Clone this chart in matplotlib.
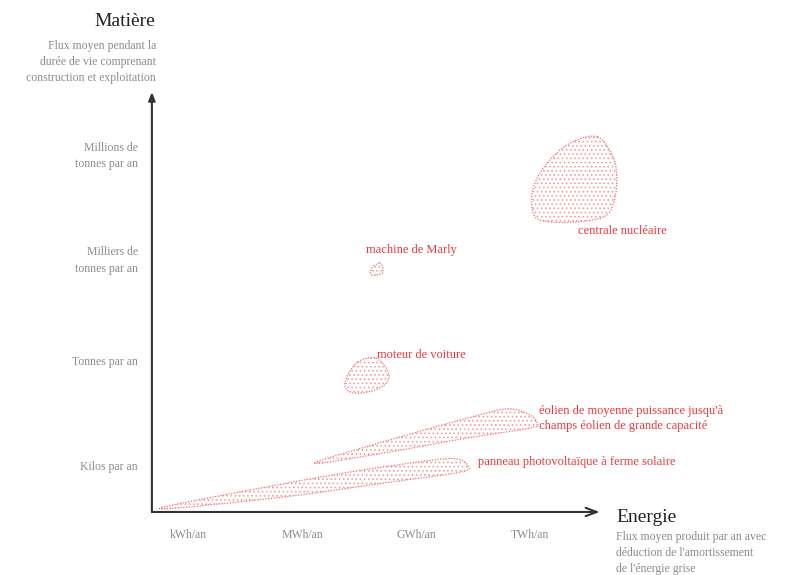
import numpy as np
import matplotlib
matplotlib.use('Agg')
import matplotlib.pyplot as plt
from matplotlib.path import Path
from matplotlib.patches import PathPatch

# axes: energy in decades from kWh/an, matter in decades from kilos/an
x_ticks = [0, 1, 2, 3]
x_labels = ['kWh/an', 'MWh/an', 'GWh/an', 'TWh/an']
y_ticks = [0, 1, 2, 3]
y_labels = ['Kilos par an', 'Tonnes par an', 'Milliers de\ntonnes par an', 'Millions de\ntonnes par an']

# outline control points of each domain (energy, matter)
nucleaire = [(3.59, 3.15), (3.73, 2.95), (3.76, 2.73), (3.73, 2.51), (3.64, 2.38),
             (3.35, 2.33), (3.09, 2.35), (3.02, 2.45), (3.03, 2.67), (3.15, 2.90), (3.35, 3.09)]
marly = [(1.68, 1.94), (1.71, 1.89), (1.70, 1.84), (1.62, 1.82), (1.60, 1.85), (1.62, 1.90)]
moteur = [(1.49, 0.99), (1.64, 1.03), (1.75, 0.91), (1.75, 0.80), (1.64, 0.72),
          (1.47, 0.69), (1.38, 0.74), (1.40, 0.86)]
eolien = [(1.11, 0.02), (1.86, 0.27), (2.45, 0.45), (2.80, 0.54), (3.00, 0.48),
          (3.06, 0.40), (3.00, 0.355), (2.45, 0.26), (1.71, 0.115)]
solaire = [(-0.25, -0.42), (0.54, -0.24), (1.42, -0.067), (2.15, 0.048), (2.36, 0.058),
           (2.45, 0.0), (2.39, -0.067), (1.71, -0.173), (0.83, -0.307)]

shapes = [nucleaire, marly, moteur, eolien, solaire]

labels = ['centrale nucléaire', 'machine de Marly', 'moteur de voiture',
          "éolien de moyenne puissance jusqu'à\nchamps éolien de grande capacité",
          'panneau photovoltaïque à ferme solaire']
label_pos = [(3.42, 2.25), (1.56, 2.06), (1.66, 1.06), (3.08, 0.45), (2.54, 0.03)]

RED = '#e8383d'
EDGE = '#ef6f72'
GRAY = '#8c8c8c'

plt.rcParams['font.family'] = ['Liberation Serif', 'DejaVu Serif']
plt.rcParams['hatch.linewidth'] = 0.7


def smooth_closed(pts):
    # closed Catmull-Rom outline expressed as cubic Bezier segments
    p = np.array(pts, dtype=float)
    n = len(p)
    verts = [p[0]]
    codes = [Path.MOVETO]
    for i in range(n):
        p0, p1, p2, p3 = p[i - 1], p[i], p[(i + 1) % n], p[(i + 2) % n]
        verts += [p1 + (p2 - p0) / 6, p2 - (p3 - p1) / 6, p2]
        codes += [Path.CURVE4] * 3
    return Path(verts, codes)


fig = plt.figure(figsize=(7.87, 5.75), dpi=100)
ax = fig.add_axes([0.193, 0.1096, 0.569, 0.7304])
ax.set_xlim(-0.316, 3.61)
ax.set_ylim(-0.45, 3.58)
for s in ax.spines.values():
    s.set_visible(False)

for pts in shapes:
    path = smooth_closed(pts)
    ax.add_patch(PathPatch(path, facecolor='none', edgecolor='#f2a0a2', hatch='....',
                           linewidth=0, clip_on=False))
    ax.add_patch(PathPatch(path, fill=False, edgecolor=EDGE, linestyle=(0, (1, 1.2)),
                           linewidth=0.9, clip_on=False))

for txt, (x, y) in zip(labels, label_pos):
    ax.text(x, y, txt, color=RED, fontsize=9, va='center', ha='left',
            linespacing=1.3, clip_on=False)

ax.set_xticks(x_ticks)
ax.set_xticklabels(x_labels, color=GRAY, fontsize=8.5)
ax.set_yticks(y_ticks)
ax.set_yticklabels(y_labels, color=GRAY, fontsize=8.5, linespacing=1.5)
ax.tick_params(length=0, pad=12)
ax.tick_params(axis='y', pad=10)

# axis arrows
ax.annotate('', xy=(0, 1), xytext=(0, 0), xycoords='axes fraction',
            arrowprops=dict(arrowstyle='-|>,head_length=0.5,head_width=0.2',
                            color='#333333', lw=1.5, shrinkA=0, shrinkB=0))
ax.annotate('', xy=(1, 0), xytext=(0, 0), xycoords='axes fraction',
            arrowprops=dict(arrowstyle='->,head_length=0.8,head_width=0.3',
                            color='#333333', lw=1.5, shrinkA=0, shrinkB=0))

# axis titles
fig.text(155 / 787, 1 - 22 / 575, 'Matière', fontsize=14, color='#222222',
         ha='right', va='center')
fig.text(156 / 787, 1 - 62 / 575,
         'Flux moyen pendant la\ndurée de vie comprenant\nconstruction et exploitation',
         fontsize=8.5, color=GRAY, ha='right', va='center', linespacing=1.45)
fig.text(616 / 787, 1 - 517 / 575, 'Energie', fontsize=14, color='#222222',
         ha='left', va='center')
fig.text(616 / 787, 1 - 553 / 575,
         "Flux moyen produit par an avec\ndéduction de l'amortissement\nde l'énergie grise",
         fontsize=8.5, color=GRAY, ha='left', va='center', linespacing=1.45)

fig.savefig('out.png', dpi=100)
